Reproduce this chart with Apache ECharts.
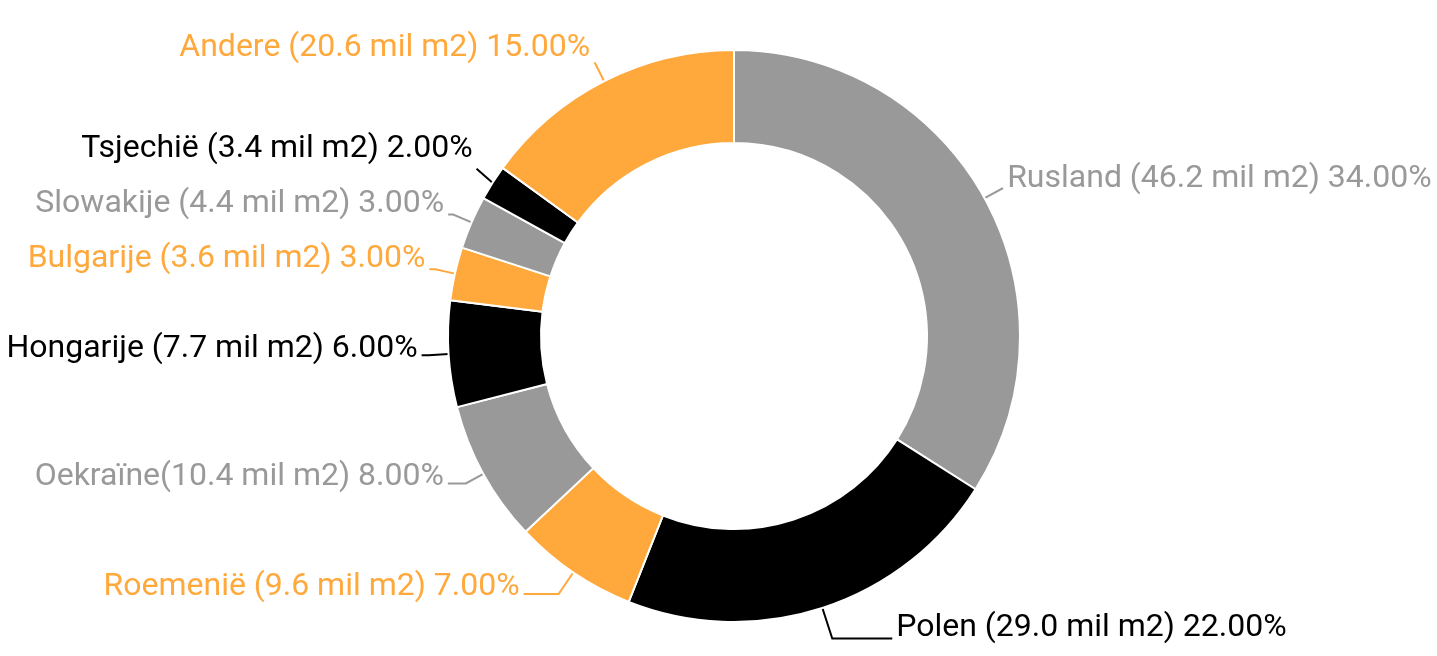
<!DOCTYPE html>
<html>
<head>
<meta charset="utf-8">
<script src="https://cdn.jsdelivr.net/npm/echarts@6/dist/echarts.min.js"></script>
<style>
html,body{margin:0;padding:0;background:#fff;}
#chart{width:1437px;height:656px;}
</style>
</head>
<body>
<div id="chart"></div>
<script>
const names = ['Rusland', 'Polen', 'Roemenië', 'Oekraïne', 'Hongarije', 'Bulgarije', 'Slowakije', 'Tsjechië', 'Andere'];
const areas = [46.2, 29.0, 9.6, 10.4, 7.7, 3.6, 4.4, 3.4, 20.6];
const shares = [34, 22, 7, 8, 6, 3, 3, 2, 15];

const GREY = '#999999', BLACK = '#000000', ORANGE = '#ffa83c';
const colors = [GREY, BLACK, ORANGE, GREY, BLACK, ORANGE, GREY, BLACK, ORANGE];

// label line / label placement tweaks (style only)
const lineTweaks = {
  'Polen': { length: 32, length2: 60 },
  'Roemenië': { length: 26, length2: 35, lift: -7 },
  'Oekraïne': { length: 20, length2: 18, lift: -6 },
  'Hongarije': { length: 20, length2: 7, lift: -6 },
  'Bulgarije': { length: 20, length2: 6 },
  'Slowakije': { length: 20, length2: 5 },
  'Tsjechië': { length: 26, length2: -6, lift: -20 },
  'Andere': { length: 20, length2: 1, lift: -15 }
};
const DEFAULT_LIFT = -10;

const data = names.map((n, i) => {
  const item = {
    name: n,
    value: shares[i],
    area: areas[i],
    itemStyle: { color: colors[i] },
    label: { color: colors[i] },
    labelLine: { lineStyle: { color: colors[i] } }
  };
  if (lineTweaks[n]) {
    item.labelLine.length = lineTweaks[n].length;
    item.labelLine.length2 = lineTweaks[n].length2;
  }
  return item;
});

const chart = echarts.init(document.getElementById('chart'), null, { renderer: 'canvas' });
chart.setOption({
  animation: false,
  backgroundColor: '#ffffff',
  series: [{
    type: 'pie',
    center: [734, 336],
    radius: [193, 286],
    startAngle: 90,
    clockwise: true,
    avoidLabelOverlap: true,
    itemStyle: { borderColor: '#ffffff', borderWidth: 2 },
    label: {
      show: true,
      position: 'outside',
      fontFamily: 'Roboto',
      fontSize: 32,
      lineHeight: 32,
      overflow: 'none',
      bleedMargin: 0,
      distanceToLabelLine: 4,
      formatter: function (p) {
        const sep = p.name === 'Oekraïne' ? '' : ' ';
        return p.name + sep + '(' + p.data.area.toFixed(1) + ' mil m2) ' + p.value.toFixed(2) + '%';
      }
    },
    labelLine: {
      show: true,
      length: 20,
      length2: 1,
      lineStyle: { width: 2 }
    },
    labelLayout: function (params) {
      const n = names[params.dataIndex];
      const t = lineTweaks[n];
      const lift = (t && t.lift != null) ? t.lift : DEFAULT_LIFT;
      return {
        y: params.labelRect.y + params.labelRect.height / 2 + lift,
        verticalAlign: 'middle',
        labelLinePoints: params.labelLinePoints
      };
    },
    emphasis: { disabled: true },
    data: data
  }]
});
</script>
</body>
</html>
